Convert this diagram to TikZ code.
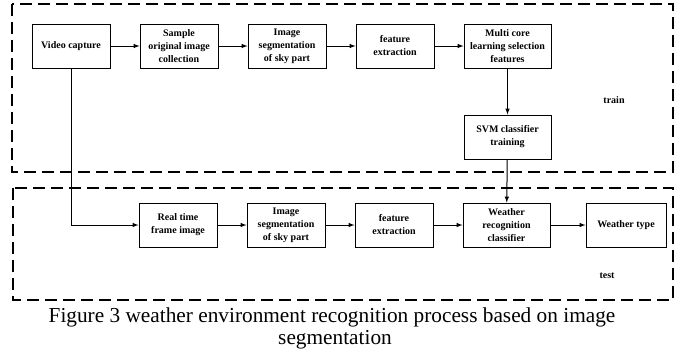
\documentclass[tikz,border=0pt]{standalone}
\usepackage{fontspec}
\setmainfont{Liberation Serif}
\usetikzlibrary{chains,positioning,calc}

\tikzset{
  flow schemes/.style = {
    x = 1pt, y = -1pt,
    line width = 1pt,
    % block
    box/.style = {
      draw,
      minimum width=78pt,
      minimum height=44pt,
      inner sep=1pt,
      align=center,
      font=\fontsize{10}{13}\selectfont\bfseries
    },
    blk/.style      = { box, on chain },
    blk wide/.style = { blk, minimum width=87pt },
    % lines, arrows
    connect line/.style = {line width = 1pt, -latex},
    group box/.style    = {line width = 1.4pt, dash pattern=on 12pt off 6pt},
    tag/.style          = {font=\fontsize{10}{12}\selectfont\bfseries},
    caption/.style      = {font=\fontsize{21.3}{24}\selectfont, anchor=base},
  }
}

\begin{document}
\begin{tikzpicture}[flow schemes]
\useasboundingbox (0,0) rectangle (692,349);

% frames
\draw[group box] (12,4)   rectangle (673,172);
\draw[group box] (13,188) rectangle (673,300);

\begin{scope}[start chain=train going right, node distance=29pt]
  \node[blk] (vc) at (71,46) {Video capture};
  \node[blk] (soi)  {Sample\\original image\\collection};
  \node[blk] (seg1) {Image\\segmentation\\of sky part};
  \node[blk] (fe1)  {feature\\extraction};
  \node[blk wide] (mc) {Multi core\\learning selection\\features};
\end{scope}
\node[box, minimum width=87pt, below=46pt of mc] (svm) {SVM classifier\\training};

\begin{scope}[start chain=test going right, node distance=29pt]
  \node[blk] (rt) at (178,225) {Real time\\frame image};
  \node[blk] (seg2) {Image\\segmentation\\of sky part};
  \node[blk] (fe2)  {feature\\extraction};
  \node[blk wide] (wrc) {Weather\\recognition\\classifier};
\end{scope}
\node[box, minimum width=80pt, right=35pt of wrc] (wt) {Weather type};

\node[tag] (trainlbl) at (614,100) {train};
\node[tag] (testlbl)  at (607,276) {test};

\draw[connect line] (vc) -- (soi);
\draw[connect line] (soi) -- (seg1);
\draw[connect line] (seg1) -- (fe1);
\draw[connect line] (fe1) -- (mc);
\draw[connect line] (mc) -- (svm);
\draw[connect line] (svm) -- (wrc);
\draw[connect line] (vc.south) |- (rt.west);
\draw[connect line] (rt) -- (seg2);
\draw[connect line] (seg2) -- (fe2);
\draw[connect line] (fe2) -- (wrc);
\draw[connect line] (wrc) -- (wt);

\node[caption] (cap1) at (332,322) {Figure 3 weather environment recognition process based on image};
\node[caption] (cap2) at (335,344) {segmentation};

\end{tikzpicture}
\end{document}
